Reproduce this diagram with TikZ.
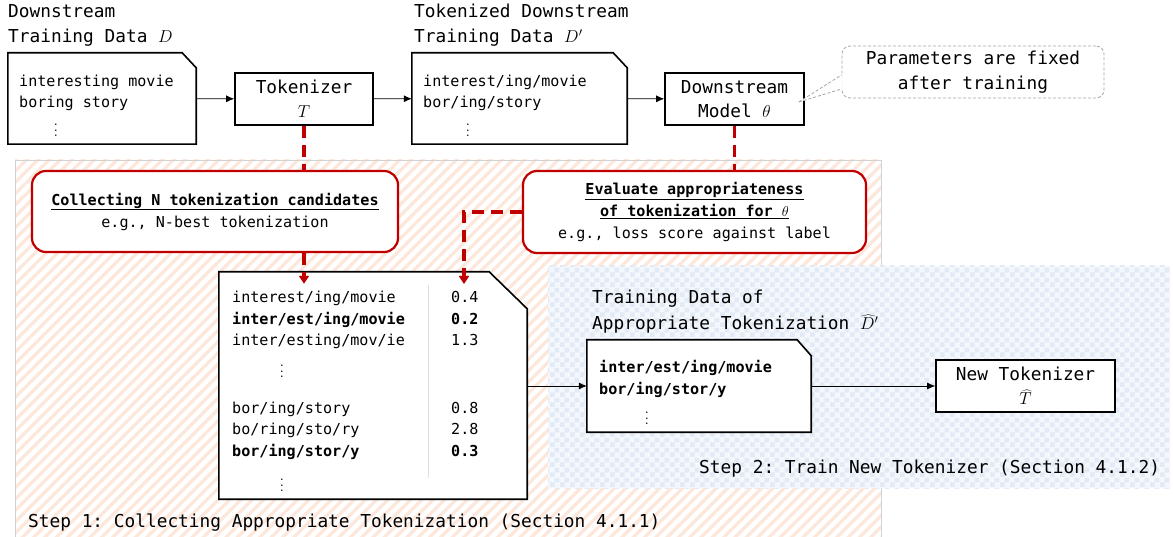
\documentclass[tikz,border=0pt]{standalone}
\usepackage{fontspec}
\setmonofont{DejaVu Sans Mono}
\usetikzlibrary{arrows.meta,patterns,patterns.meta}
\definecolor{myred}{RGB}{192,0,0}
\definecolor{stripe}{RGB}{253,231,218}
\definecolor{bluebase}{RGB}{244,247,252}
\definecolor{bluesq}{RGB}{226,234,246}
\pgfdeclarepatternformonly{bluecheck}{\pgfpointorigin}{\pgfqpoint{10pt}{10pt}}{\pgfqpoint{10pt}{10pt}}{%
  \pgfpathrectangle{\pgfpointorigin}{\pgfqpoint{5pt}{5pt}}%
  \pgfpathrectangle{\pgfqpoint{5pt}{5pt}}{\pgfqpoint{5pt}{5pt}}%
  \pgfusepath{fill}}
\newcommand\docoutline[3]{%
  \filldraw[fill=white,line width=1.6pt] (#1.south west) -- (#1.north west) -- ([xshift=-#2pt]#1.north east) -- ([yshift=-#3pt]#1.north east) -- (#1.south east) -- cycle;}
\tikzset{
  ttl/.style={font=\fontsize{17.8}{25}\selectfont\ttfamily, inner sep=0, anchor=base west},
  body/.style={font=\fontsize{15.1}{21.5}\selectfont\ttfamily, inner sep=0, anchor=base west},
  bodyb/.style={body, font=\fontsize{15.1}{21.5}\selectfont\ttfamily\bfseries},
  dots/.style={inner sep=0, scale=1.45},
  blackbox/.style={draw=black, line width=1.6pt, fill=white, inner sep=0, align=center,
    font=\fontsize{17.8}{24}\selectfont\ttfamily},
  docarea/.style={inner sep=0, draw=none},
  redbox/.style={draw=myred, line width=2.2pt, rounded corners=14pt, fill=white, align=center,
    font=\fontsize{15.1}{22}\selectfont\ttfamily, inner sep=0},
  callbox/.style={draw=gray!70, line width=0.8pt, dash pattern=on 3pt off 2pt, rounded corners=8pt,
    fill=white, align=center, inner sep=0, font=\fontsize{17.8}{25}\selectfont\ttfamily},
  calldash/.style={draw=gray!70, line width=0.8pt, dash pattern=on 3pt off 2pt},
  arr/.style={-{Latex[length=8pt,width=7pt]}, line width=0.8pt},
  reddash/.style={draw=myred, line width=3.2pt, dash pattern=on 12pt off 7pt},
  redarr/.style={reddash, -{Triangle[length=8pt,width=10pt]}},
}
\begin{document}
\begin{tikzpicture}[x=1pt,y=-1pt]
\useasboundingbox (0,0) rectangle (1173,537);
% regions
\fill[white] (0,0) rectangle (1173,537);
\path[draw=gray!35, line width=0.8pt, pattern={Lines[angle=45,distance=8pt,line width=3.2pt]}, pattern color=stripe]
  (15,160) rectangle (881,537);
\fill[bluebase] (548,266) rectangle (1170,488);
\path[pattern=bluecheck, pattern color=bluesq] (548,266) rectangle (1170,488);

% top row
\node[ttl] (t1a) at (8,18) {Downstream};
\node[ttl] (t1b) at (8,43) {Training Data $D$};
\node[docarea, minimum width=188, minimum height=91] (d1) at (102,98.5) {};
\docoutline{d1}{14}{15}
\node[body] (d1a) at (19,87) {interesting movie};
\node[body] (d1b) at (19,108) {boring story};
\node[dots] (d1c) at (56,126) {$\vdots$};

\node[blackbox, minimum width=138, minimum height=52] (tok) at (304,99) {Tokenizer\\$T$};

\node[ttl] (t2a) at (414,18) {Tokenized Downstream};
\node[ttl] (t2b) at (414,43) {Training Data $D'$};
\node[docarea, minimum width=215, minimum height=91] (d2) at (519.5,98.5) {};
\docoutline{d2}{14}{15}
\node[body] (d2a) at (423,87) {interest/ing/movie};
\node[body] (d2b) at (423,108) {bor/ing/story};
\node[dots] (d2c) at (468,126) {$\vdots$};

\node[blackbox, minimum width=139, minimum height=52] (model) at (734.5,99) {Downstream\\Model $\theta$};

\node[callbox, minimum width=262, minimum height=52] (call) at (973,72) {Parameters are fixed\\after training};
\coordinate (tip) at ([xshift=-6pt,yshift=-3pt]model.east);
\fill[white] (tip) -- ([xshift=1pt,yshift=-3pt]call.west) -- ([xshift=1pt,yshift=-17pt]call.west) -- cycle;
\draw[calldash] (tip) -- ([yshift=-3pt]call.west);
\draw[calldash] (tip) -- ([yshift=-17pt]call.west);

\draw[arr] (d1) -- (tok);
\draw[arr] (tok) -- (d2);
\draw[arr] (d2) -- (model);

% red boxes
\node[redbox, minimum width=366, minimum height=81] (coll) at (215,211.5)
  {\textbf{\underline{Collecting N tokenization candidates}}\\e.g., N-best tokenization};
\node[redbox, minimum width=343, minimum height=82] (eval) at (694.5,212)
  {\textbf{\underline{Evaluate appropriateness}}\\\textbf{\underline{of tokenization for $\theta$}}\\e.g., loss score against label};

% big candidate box
\node[docarea, minimum width=308, minimum height=227] (big) at (373,385.5) {};
\docoutline{big}{38}{37}
\draw[gray!25, line width=1pt] (428,285) -- (428,478);
\node[body]  (r1) at (232,303) {interest/ing/movie};
\node[bodyb] (r2) at (232,324.5) {inter/est/ing/movie};
\node[body]  (r3) at (232,346) {inter/esting/mov/ie};
\node[dots]  (r4) at (282,367) {$\vdots$};
\node[body]  (r5) at (232,413) {bor/ing/story};
\node[body]  (r6) at (232,434.5) {bo/ring/sto/ry};
\node[bodyb] (r7) at (232,456) {bor/ing/stor/y};
\node[dots]  (r8) at (282,481) {$\vdots$};
\node[body]  (s1) at (451,303) {0.4};
\node[bodyb] (s2) at (451,324.5) {0.2};
\node[body]  (s3) at (451,346) {1.3};
\node[body]  (s5) at (451,413) {0.8};
\node[body]  (s6) at (451,434.5) {2.8};
\node[bodyb] (s7) at (451,456) {0.3};

% red connectors
\draw[reddash] (tok.south) -- (tok.south |- coll.north);
\draw[reddash] (model.south) -- (model.south |- eval.north);
\coordinate (in1) at ([yshift=-12pt]big.north -| tok.south);
\coordinate (in2) at (464,284);
\draw[redarr] (tok.south |- coll.south) -- (in1);
\draw[redarr] (eval.west) -| (in2);

% step 2
\node[ttl] (t3a) at (592,304) {Training Data of};
\node[ttl] (t3b) at (592,330) {Appropriate Tokenization $\widehat{D}'$};
\node[docarea, minimum width=224, minimum height=92] (d3) at (699,386) {};
\docoutline{d3}{14}{16}
\node[bodyb] (d3a) at (599,373) {inter/est/ing/movie};
\node[bodyb] (d3b) at (599,395) {bor/ing/stor/y};
\node[dots]  (d3c) at (647,414) {$\vdots$};
\node[blackbox, minimum width=179, minimum height=52] (newtok) at (1025.5,386) {New Tokenizer\\$\widehat{T}$};

\draw[arr] (big.east |- d3.west) -- (d3.west);
\draw[arr] (d3) -- (newtok);

\node[ttl] (step2) at (699,473) {Step 2: Train New Tokenizer (Section 4.1.2)};
\node[ttl] (step1) at (28,527) {Step 1: Collecting Appropriate Tokenization (Section 4.1.1)};
\end{tikzpicture}
\end{document}
